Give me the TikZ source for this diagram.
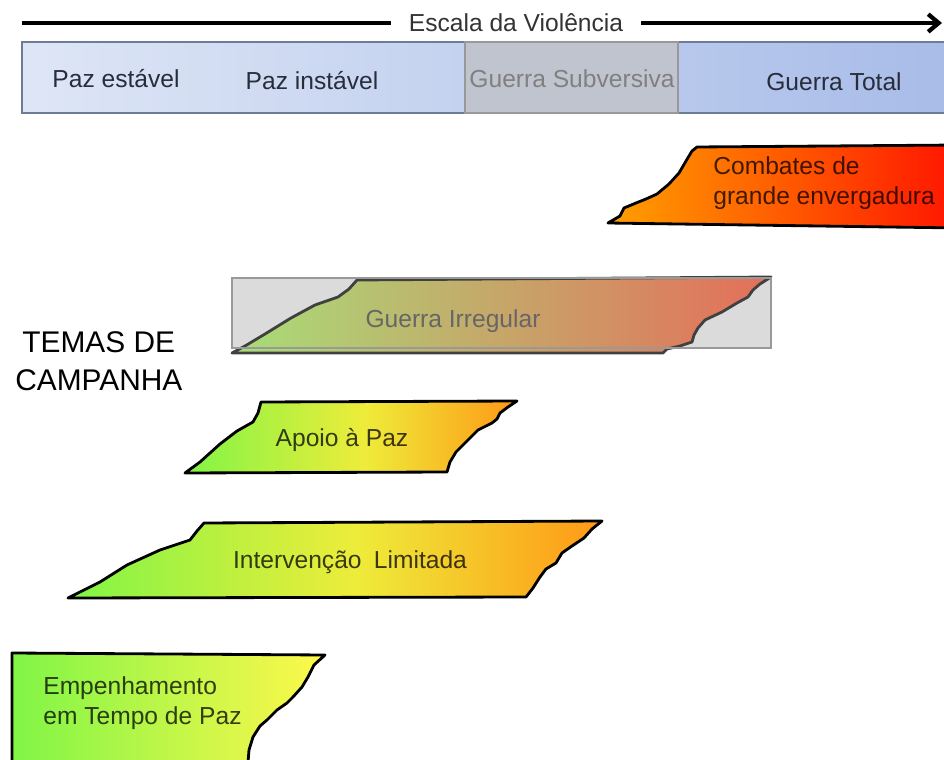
\documentclass[tikz,border=0pt]{standalone}
\usepackage{fontspec}
\setmainfont{Liberation Sans}
\usetikzlibrary{arrows.meta}

\definecolor{peace}{RGB}{128,245,70}
\definecolor{calm}{RGB}{238,236,58}
\definecolor{warm}{RGB}{255,152,22}
\definecolor{pale}{RGB}{255,248,75}
\pgfdeclarehorizontalshading{peacewar}{100bp}{color(0bp)=(peace); color(25bp)=(peace);
  color(52bp)=(calm); color(75bp)=(warm); color(100bp)=(warm)}

\tikzset{
  theme/.style={draw=black, line width=1.6pt, line join=round},
  themetext/.style={font=\fontsize{14}{17}\selectfont, text=black, text opacity=0.75, inner sep=0pt},
  bartext/.style={font=\fontsize{14}{17}\selectfont, inner sep=0pt},
}

\begin{document}
\begin{tikzpicture}[x=0.02cm, y=-0.02cm]
  \definecolor{barleft}{RGB}{222,230,246}
  \definecolor{barright}{RGB}{168,188,232}
  \definecolor{barline}{RGB}{110,125,150}
  \definecolor{subfill}{RGB}{192,196,206}
  \definecolor{bartxt}{RGB}{40,45,60}
  \definecolor{hot}{RGB}{255,160,0}
  \definecolor{fire}{RGB}{255,20,0}

  \useasboundingbox (0,0) rectangle (944,760);
  \clip (0,0) rectangle (944,760);

  % escala
  \coordinate (scaleStart) at (22,23);
  \coordinate (scaleEnd) at (942,23);
  \node[bartext, text=black!80, inner xsep=10pt] (escala) at (516,23) {Escala da Violência};
  \draw[line width=2.4pt] (scaleStart) -- (escala.west);
  \draw[line width=2.4pt, -{Straight Barb[length=6pt,width=10pt]}] (escala.east) -- (scaleEnd);

  % barra
  \draw[barline, line width=1.2pt, left color=barleft, right color=barright]
    (22,42) rectangle (950,113);
  \draw[black!40, line width=1pt, fill=subfill] (465,42) rectangle (678,113);
  \node[bartext, text=bartxt]   (pazEstavel)   at (116,79) {Paz estável};
  \node[bartext, text=bartxt]   (pazInstavel)  at (312,81) {Paz instável};
  \node[bartext, text=black!50] (guerraSub)    at (572,79) {Guerra Subversiva};
  \node[bartext, text=bartxt]   (guerraTotal)  at (834,82) {Guerra Total};

  % combates de grande envergadura
  \draw[theme, left color=hot, right color=fire]
    (608,223) -- (620,216) -- (624,208) -- (636,203) -- (646,199) -- (657,194)
    -- (669,184) -- (679,173) -- (686,161) -- (692,151) -- (697,147)
    -- (960,145) -- (960,228) -- cycle;
  \node[themetext, align=left, anchor=west] (combates) at (713,183)
    {Combates de\\grande envergadura};

  % guerra irregular
  \fill[black!14] (232,278) rectangle (771,348);
  \draw[theme, draw=black!75, left color={rgb,255:red,168;green,222;blue,120},
        middle color={rgb,255:red,222;green,175;blue,120},
        right color={rgb,255:red,228;green,110;blue,90}]
    (232,353) -- (245,346) -- (265,334) -- (291,318) -- (315,305) -- (338,297)
    -- (349,289) -- (357,280) -- (771,277) -- (760,284) -- (753,290)
    -- (748,297) -- (737,303) -- (722,312) -- (705,320) -- (698,328)
    -- (694,335) -- (692,342) -- (680,346) -- (667,349) -- (663,353) -- cycle;
  \draw[black!40, line width=1pt] (232,278) rectangle (771,348);
  \node[bartext, text=black!60] (irregular) at (453,321) {Guerra Irregular};

  \node[font=\fontsize{17}{21.5}\selectfont, align=left, anchor=west, inner sep=0pt]
    (temas) at (15,361) {\hspace*{4pt}TEMAS DE\\CAMPANHA};

  % apoio a paz
  \draw[theme, shading=peacewar]
    (185,473) -- (200,462) -- (220,444) -- (237,431) -- (253,422) -- (258,413)
    -- (261,402) -- (517,401) -- (508,407) -- (500,413) -- (497,419)
    -- (492,423) -- (478,430) -- (472,436) -- (466,442) -- (462,446)
    -- (456,452) -- (450,462) -- (447,472) -- cycle;
  \node[themetext] (apoio) at (342,440) {Apoio à Paz};

  % intervencao limitada
  \draw[theme, shading=peacewar]
    (68,598) -- (100,582) -- (127,565) -- (160,550) -- (190,540) -- (197,531)
    -- (204,523) -- (602,521) -- (592,529) -- (584,538) -- (572,546)
    -- (562,553) -- (556,563) -- (546,569) -- (540,577) -- (533,588)
    -- (526,597) -- cycle;
  \node[themetext] (intervencao) at (350,562) {Intervenção\hspace{0.5em}Limitada};

  % empenhamento em tempo de paz
  \draw[theme, left color=peace, right color=pale]
    (12,653) -- (325,655) -- (314,665) -- (308,677) -- (302,687) -- (293,697)
    -- (287,703) -- (277,710) -- (267,720) -- (260,726) -- (253,737)
    -- (249,750) -- (247,775) -- (12,775) -- cycle;
  \node[themetext, align=left, anchor=west] (empenho) at (43,703)
    {Empenhamento\\em Tempo de Paz};
\end{tikzpicture}
\end{document}
